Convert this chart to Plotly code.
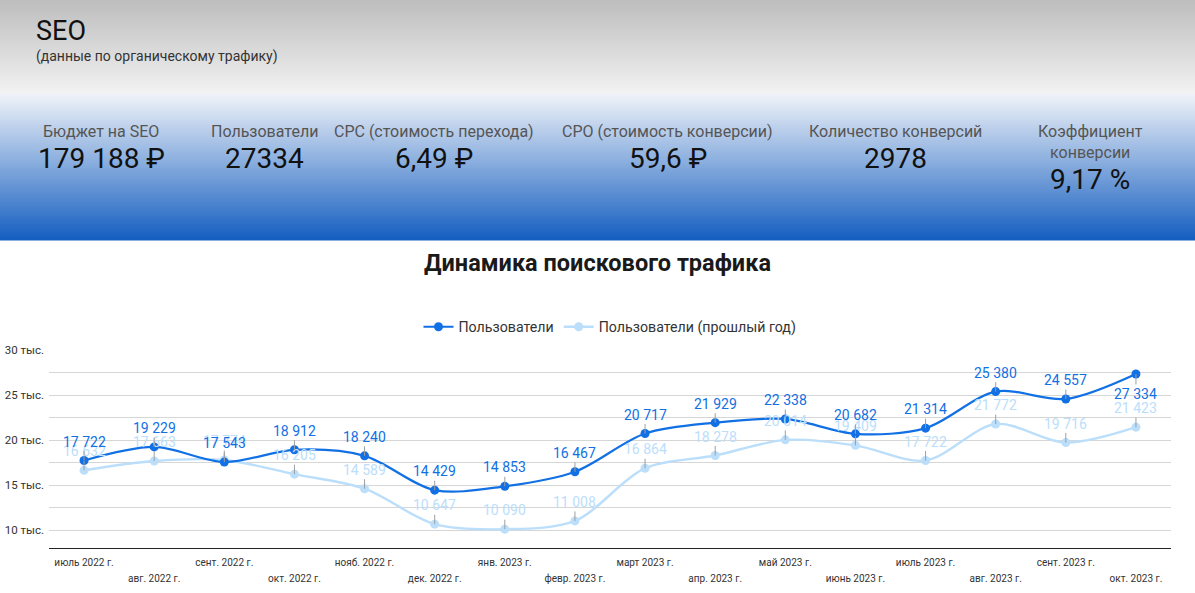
import plotly.graph_objects as go

# ---------------- data ----------------
months = ["июль 2022 г.", "авг. 2022 г.", "сент. 2022 г.", "окт. 2022 г.", "нояб. 2022 г.",
          "дек. 2022 г.", "янв. 2023 г.", "февр. 2023 г.", "март 2023 г.", "апр. 2023 г.",
          "май 2023 г.", "июнь 2023 г.", "июль 2023 г.", "авг. 2023 г.", "сент. 2023 г.",
          "окт. 2023 г."]
users = [17722, 19229, 17543, 18912, 18240, 14429, 14853, 16467, 20717, 21929,
         22338, 20682, 21314, 25380, 24557, 27334]
users_prev = [16632, 17663, 17774, 16205, 14589, 10647, 10090, 11008, 16864, 18278,
              20014, 19409, 17722, 21772, 19716, 21423]
y_tick_vals = [10000, 12500, 15000, 17500, 20000, 22500, 25000, 27500, 30000]
y_tick_text = ["10 тыс.", "", "15 тыс.", "", "20 тыс.", "", "25 тыс.", "", "30 тыс."]

kpi_labels = ["Бюджет на SEO", "Пользователи", "CPC (стоимость перехода)",
              "CPO (стоимость конверсии)", "Количество конверсий", "Коэффициент<br>конверсии"]
kpi_values = ["179 188 ₽", "27334", "6,49 ₽", "59,6 ₽", "2978", "9,17 %"]

title_text = "SEO"
subtitle_text = "(данные по органическому трафику)"
chart_title = "Динамика поискового трафика"
name_users = "Пользователи"
name_prev = "Пользователи (прошлый год)"

C_USERS = "#1170e4"
C_PREV = "#bbdefb"
FONT = "Roboto"

W, H = 1195, 593
ML, MR, MT, MB = 49, 24, 350, 45
PW, PH = W - ML - MR, H - MT - MB


def px_x(x):
    return (x - ML) / PW


def px_y(y):
    return (H - MB - y) / PH


def fmt(v):
    return f"{v:,}".replace(",", " ")


fig = go.Figure()
fig.add_trace(go.Scatter(
    x=months, y=users_prev, name=name_prev, mode="lines+markers",
    line=dict(color=C_PREV, width=2.4, shape="spline", smoothing=0.9),
    marker=dict(size=9, color=C_PREV)))
fig.add_trace(go.Scatter(
    x=months, y=users, name=name_users, mode="lines+markers",
    line=dict(color=C_USERS, width=2.2, shape="spline", smoothing=0.9),
    marker=dict(size=9, color=C_USERS)))

annotations = []
# data labels (previous year first so current year is drawn over it)
for series, color in ((users_prev, C_PREV), (users, C_USERS)):
    n = len(series)
    for i, (m, v) in enumerate(zip(months, series)):
        below = (series is users and i == n - 1)
        annotations.append(dict(
            x=m, y=v, xref="x", yref="y", text=fmt(v),
            showarrow=True, arrowhead=0, arrowwidth=1, arrowcolor="#9e9e9e",
            ax=0, ay=(20 if below else -19), standoff=0,
            font=dict(family=FONT, size=14, color=color)))

# header texts
annotations.append(dict(x=px_x(34), y=px_y(31), xref="paper", yref="paper", text=title_text,
                        showarrow=False, xanchor="left", yanchor="middle",
                        font=dict(family=FONT, size=27, color="#111111")))
annotations.append(dict(x=px_x(34), y=px_y(56), xref="paper", yref="paper", text=subtitle_text,
                        showarrow=False, xanchor="left", yanchor="middle",
                        font=dict(family=FONT, size=14, color="#333333")))

kpi_cx = [101, 264, 434, 668, 895, 1090]
for i, (lab, val, cx) in enumerate(zip(kpi_labels, kpi_values, kpi_cx)):
    two = "<br>" in lab
    annotations.append(dict(x=px_x(cx), y=px_y(132 if not two else 142), xref="paper", yref="paper",
                            text=lab, showarrow=False, xanchor="center", yanchor="middle",
                            font=dict(family=FONT, size=16, color="#555555")))
    annotations.append(dict(x=px_x(cx), y=px_y(179 if two else 159), xref="paper", yref="paper",
                            text=val, showarrow=False, xanchor="center", yanchor="middle",
                            font=dict(family=FONT, size=28, color="#111111")))

# gradient header background
shapes = []
def lerp(c1, c2, t):
    return tuple(round(a + (b - a) * t) for a, b in zip(c1, c2))

top1, bot1 = (189, 189, 189), (243, 243, 243)
top2, bot2 = (238, 242, 248), (20, 94, 192)
step = 2
for y0 in range(0, 240, step):
    y1 = y0 + step
    yc = y0 + step / 2
    if yc < 95:
        c = lerp(top1, bot1, yc / 95)
    else:
        c = lerp(top2, bot2, (yc - 95) / 145)
    shapes.append(dict(type="rect", xref="paper", yref="paper", layer="below",
                       x0=px_x(-2), x1=px_x(W + 2), y0=px_y(y1 + 0.5), y1=px_y(y0 - (2 if y0 == 0 else 0)),
                       fillcolor="rgb(%d,%d,%d)" % c, line=dict(width=0)))

tick_text = [(f'<span style="font-size:10px">{m}</span>' if i % 2 == 0
              else f'<br><span style="font-size:10px">{m}</span>') for i, m in enumerate(months)]

fig.update_layout(
    width=W, height=H,
    margin=dict(l=ML, r=MR, t=MT, b=MB, autoexpand=False),
    paper_bgcolor="white", plot_bgcolor="white",
    font=dict(family=FONT, color="#333333"),
    title=dict(text=f"<b>{chart_title}</b>", x=0.5, xanchor="center",
               y=1 - 263 / H, yanchor="middle", yref="container",
               font=dict(family=FONT, size=23.5, color="#1a1a1a")),
    showlegend=True,
    legend=dict(orientation="h", x=0.5, xanchor="center", y=1 + 23 / PH, yanchor="middle",
                font=dict(family=FONT, size=14.2, color="#333333"), traceorder="reversed",
                bgcolor="rgba(0,0,0,0)"),
    annotations=annotations,
    shapes=shapes,
    hovermode="x",
)
fig.update_xaxes(type="category", categoryorder="array", categoryarray=months,
                 range=[-0.5, len(months) - 0.5], automargin=False,
                 tickvals=months, ticktext=tick_text, tickangle=0,
                 tickfont=dict(family=FONT, size=12.3, color="#333333"),
                 ticklabelstandoff=2,
                 showline=True, linecolor="#222222", linewidth=1,
                 showgrid=False, ticks="", zeroline=False, fixedrange=True)
fig.update_yaxes(range=[8000, 30000], tickvals=y_tick_vals, ticktext=y_tick_text,
                 automargin=False,
                 tickfont=dict(family=FONT, size=11.5, color="#333333"),
                 showgrid=True, gridcolor="#d6d6d6", gridwidth=1,
                 zeroline=False, showline=False, ticks="", ticklabelstandoff=4, fixedrange=True)

fig.write_html("out.html")
